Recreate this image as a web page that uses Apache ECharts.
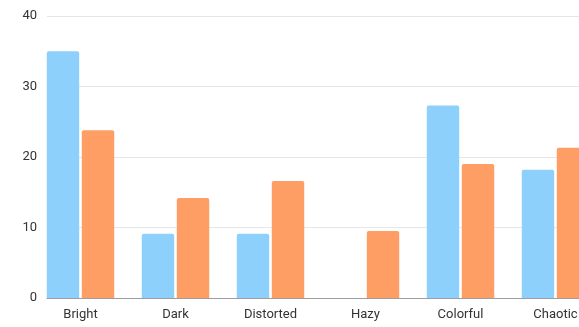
<!DOCTYPE html>
<html>
<head>
<meta charset="utf-8">
<script src="https://cdn.jsdelivr.net/npm/echarts@6/dist/echarts.min.js"></script>
<style>
html,body{margin:0;padding:0;background:#fff;}
#chart{width:579px;height:327px;}
</style>
</head>
<body>
<div id="chart"></div>
<script>
const categories = ['Bright', 'Dark', 'Distorted', 'Hazy', 'Colorful', 'Chaotic'];
const seriesA = [35.0, 9.1, 9.1, null, 27.3, 18.2];
const seriesB = [23.8, 14.2, 16.6, 9.5, 19.0, 21.3];
const yTicks = [0, 10, 20, 30, 40];

const chart = echarts.init(document.getElementById('chart'), null, {renderer: 'canvas'});
const font = 'Roboto, "Noto Sans", sans-serif';
chart.setOption({
  animation: false,
  backgroundColor: '#ffffff',
  grid: [
    {left: 33, right: -24, top: 16, bottom: 29, containLabel: false, outerBoundsMode: 'none'},
    {left: 47, right: 0, top: 16, bottom: 29, outerBoundsMode: 'none'}
  ],
  xAxis: [
    {
      gridIndex: 0, type: 'category', data: categories,
      axisLine: {show: false}, axisTick: {show: false},
      axisLabel: {color: '#333', fontSize: 13, fontFamily: font, margin: 10, interval: 0},
      splitLine: {show: false}
    },
    {
      gridIndex: 1, type: 'value', min: 0, max: 1,
      axisLine: {show: true, onZero: false, lineStyle: {color: '#9e9e9e', width: 1}},
      axisTick: {show: false}, axisLabel: {show: false}, splitLine: {show: false}
    }
  ],
  yAxis: [
    {
      gridIndex: 0, type: 'value', min: yTicks[0], max: yTicks[yTicks.length - 1], interval: 10,
      show: false, splitLine: {show: false}
    },
    {
      gridIndex: 1, type: 'value', min: yTicks[0], max: yTicks[yTicks.length - 1], interval: 10,
      axisLine: {show: false}, axisTick: {show: false},
      axisLabel: {color: '#333', fontSize: 13, fontFamily: font, margin: 10},
      splitLine: {show: true, lineStyle: {color: '#e6e6e6', width: 1}}
    }
  ],
  series: [
    {
      type: 'bar', xAxisIndex: 0, yAxisIndex: 0, data: seriesA,
      barGap: '8%', barCategoryGap: '29%',
      itemStyle: {color: '#8DD0FC', borderRadius: [2, 2, 0, 0]}
    },
    {
      type: 'bar', xAxisIndex: 0, yAxisIndex: 0, data: seriesB,
      barGap: '8%', barCategoryGap: '29%',
      itemStyle: {color: '#FF9E64', borderRadius: [2, 2, 0, 0]}
    }
  ]
});
</script>
</body>
</html>
